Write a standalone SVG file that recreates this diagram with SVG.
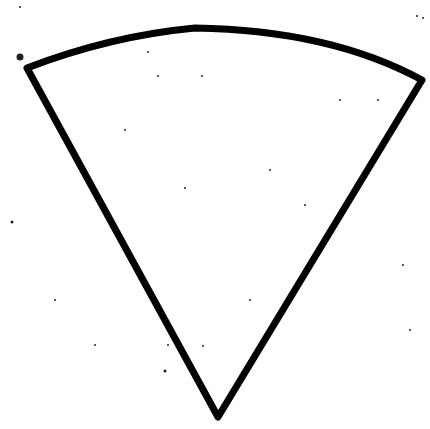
<svg xmlns="http://www.w3.org/2000/svg" width="430" height="429" viewBox="0 0 430 429">
<style>
.outline{fill:none;stroke:#000;stroke-width:7;stroke-linejoin:round;stroke-linecap:round}
.speck{fill:#222}
</style>
<rect width="430" height="429" fill="#fff"/>
<g id="sector">
<path class="outline" d="M27,68 Q110,36 195,28 Q330,30 422,80 L218,417 Z"/>
</g>
<g id="specks">
<circle class="speck" cx="20" cy="57" r="3.5"/>
<circle class="speck" cx="20" cy="7" r="1"/>
<circle class="speck" cx="148" cy="52" r="1"/>
<circle class="speck" cx="158" cy="76" r="1"/>
<circle class="speck" cx="202" cy="76" r="1"/>
<circle class="speck" cx="340" cy="100" r="1"/>
<circle class="speck" cx="378" cy="100" r="1"/>
<circle class="speck" cx="417" cy="16" r="1"/>
<circle class="speck" cx="423" cy="18" r="1"/>
<circle class="speck" cx="12" cy="222" r="1.5"/>
<circle class="speck" cx="165" cy="371" r="1.5"/>
<circle class="speck" cx="203" cy="346" r="1"/>
<circle class="speck" cx="168" cy="345" r="1"/>
<circle class="speck" cx="125" cy="130" r="1"/>
<circle class="speck" cx="185" cy="188" r="1"/>
<circle class="speck" cx="270" cy="170" r="1"/>
<circle class="speck" cx="305" cy="205" r="1"/>
<circle class="speck" cx="403" cy="265" r="1"/>
<circle class="speck" cx="410" cy="330" r="1"/>
<circle class="speck" cx="95" cy="345" r="1"/>
<circle class="speck" cx="250" cy="300" r="1"/>
<circle class="speck" cx="55" cy="300" r="1"/>
</g>
</svg>
